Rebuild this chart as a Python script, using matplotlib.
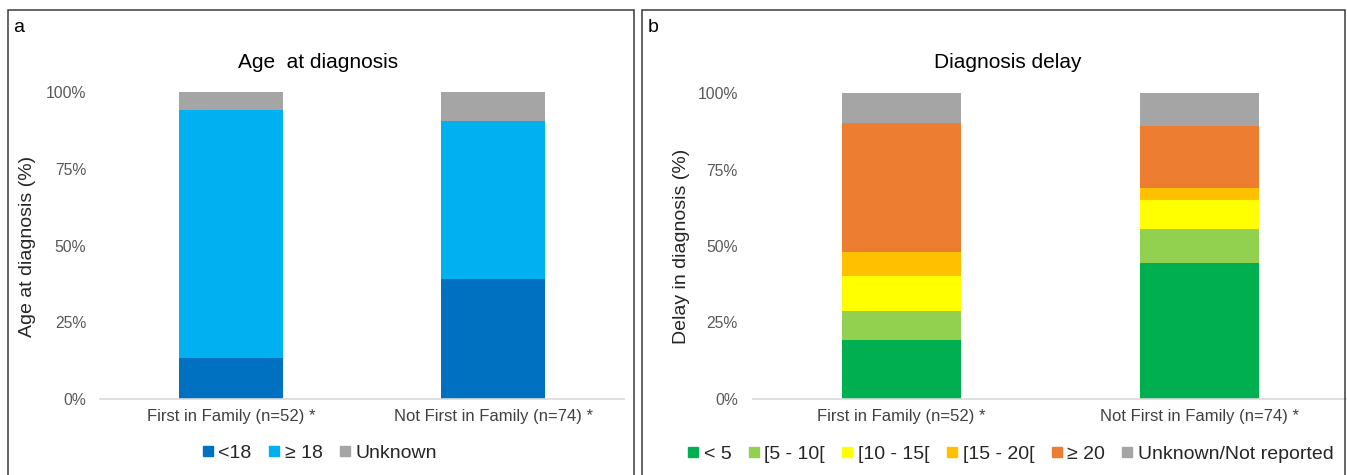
import matplotlib
matplotlib.use("Agg")
import matplotlib.pyplot as plt
from matplotlib.lines import Line2D
from matplotlib.patches import Rectangle
from matplotlib.ticker import PercentFormatter

plt.rcParams['font.family'] = ['Liberation Sans', 'DejaVu Sans']

# ---------------- data ----------------
groups = ["First in Family (n=52) *", "Not First in Family (n=74) *"]

age_labels = ["<18", "\u2265 18", "Unknown"]
age_lt18 = [13.5, 39.2]
age_ge18 = [80.7, 51.3]
age_unknown = [5.8, 9.5]
age_colors = ["#0070C0", "#00B0F0", "#A5A5A5"]

delay_labels = ["< 5", "[5 - 10[", "[10 - 15[", "[15 - 20[", "\u2265 20", "Unknown/Not reported"]
delay_lt5 = [19.2, 44.6]
delay_5_10 = [9.6, 10.8]
delay_10_15 = [11.5, 9.5]
delay_15_20 = [7.7, 4.0]
delay_ge20 = [42.3, 20.3]
delay_unknown = [9.7, 10.8]
delay_colors = ["#00B050", "#92D050", "#FFFF00", "#FFC000", "#ED7D31", "#A5A5A5"]

W, H = 1347, 475
fig = plt.figure(figsize=(W / 100, H / 100), dpi=100)

def fx(px):
    return px / W

def fy(py):
    return 1 - py / H

# panel borders
for (x0, x1) in [(8, 634), (642, 1345)]:
    fig.patches.append(Rectangle((fx(x0), fy(520)), fx(x1) - fx(x0), fy(10) - fy(520),
                                 transform=fig.transFigure, fill=False,
                                 edgecolor="#3a3a3a", linewidth=1.1))

def style_axes(ax, ypad):
    for s in ["top", "right", "left"]:
        ax.spines[s].set_visible(False)
    ax.spines["bottom"].set_color("#D9D9D9")
    ax.spines["bottom"].set_linewidth(1.2)
    ax.set_ylim(0, 100)
    ax.set_xlim(-0.5, 1.5)
    ax.set_yticks([0, 25, 50, 75, 100])
    ax.yaxis.set_major_formatter(PercentFormatter(decimals=0))
    ax.tick_params(axis="y", length=0, pad=ypad, labelsize=11.3, labelcolor="#595959")
    ax.tick_params(axis="x", length=0, pad=7, labelsize=12, labelcolor="#404040")
    ax.set_xticks(range(len(groups)))
    ax.set_xticklabels(groups)

# ---------------- panel a ----------------
axa = fig.add_axes([fx(100), fy(399), fx(624) - fx(100), fy(92) - fy(399)])
series_a = [age_lt18, age_ge18, age_unknown]
bottom = [0.0] * len(groups)
for vals, col, lab in zip(series_a, age_colors, age_labels):
    axa.bar(range(len(groups)), vals, width=0.4, bottom=bottom, color=col, label=lab)
    bottom = [b + v for b, v in zip(bottom, vals)]
style_axes(axa, 10)
fig.text(fx(28), fy(246), "Age at diagnosis (%)", rotation=90, ha="center", va="center",
         fontsize=14, color="#262626")
fig.text(fx(318), fy(62), "Age  at diagnosis", ha="center", va="center", fontsize=15, color="#000000")
fig.text(fx(13), fy(28), "a", ha="left", va="center", fontsize=14, color="#000000")

handles_a = [Line2D([0], [0], marker="s", linestyle="", color=c, markersize=7) for c in age_colors]
fig.legend(handles_a, age_labels, loc="center", bbox_to_anchor=(fx(320), fy(453)), ncol=3,
           frameon=False, fontsize=14, handlelength=0.5, handletextpad=0.3,
           columnspacing=0.9, borderpad=0, labelcolor="#262626")

# ---------------- panel b ----------------
axb = fig.add_axes([fx(753), fy(399), fx(1348) - fx(753), fy(93) - fy(399)])
series_b = [delay_lt5, delay_5_10, delay_10_15, delay_15_20, delay_ge20, delay_unknown]
bottom = [0.0] * len(groups)
for vals, col, lab in zip(series_b, delay_colors, delay_labels):
    axb.bar(range(len(groups)), vals, width=0.4, bottom=bottom, color=col, label=lab)
    bottom = [b + v for b, v in zip(bottom, vals)]
style_axes(axb, 11)
fig.text(fx(681), fy(246), "Delay in diagnosis (%)", rotation=90, ha="center", va="center",
         fontsize=14, color="#262626")
fig.text(fx(1008), fy(63), "Diagnosis delay", ha="center", va="center", fontsize=15, color="#000000")
fig.text(fx(648), fy(28), "b", ha="left", va="center", fontsize=14, color="#000000")

handles_b = [Line2D([0], [0], marker="s", linestyle="", color=c, markersize=7) for c in delay_colors]
fig.legend(handles_b, delay_labels, loc="center", bbox_to_anchor=(fx(1011), fy(454)), ncol=6,
           frameon=False, fontsize=14, handlelength=0.5, handletextpad=0.3,
           columnspacing=0.9, borderpad=0, labelcolor="#262626")

fig.savefig("out.png", dpi=100)
